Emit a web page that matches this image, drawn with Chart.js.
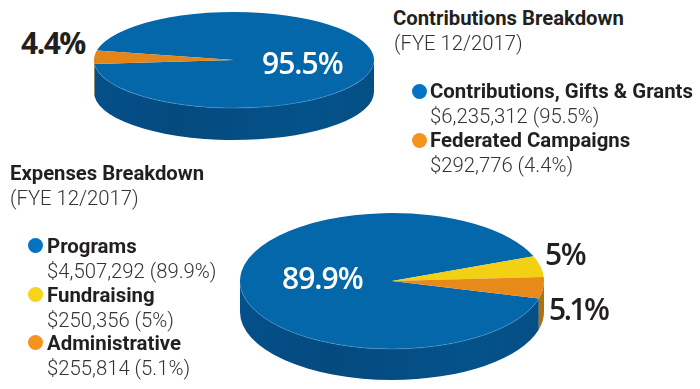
<!DOCTYPE html>
<html>
<head>
<meta charset="utf-8">
<script src="https://cdn.jsdelivr.net/npm/chart.js@4"></script>
<style>
  html, body { margin: 0; padding: 0; background: #fff; }
  body { position: relative; width: 700px; height: 389px; overflow: hidden; font-family: Roboto, sans-serif; }
  canvas { position: absolute; }
  .t { position: absolute; white-space: nowrap; line-height: 20px; }
  .head { font-weight: 700; font-size: 20.3px; color: #231f20; }
  .sub { font-weight: 300; font-size: 20.3px; color: #333; }
  .name { font-weight: 700; font-size: 20.4px; color: #231f20; }
  .amt { font-weight: 300; font-size: 20.3px; color: #333; }
  .pct { font-family: "Open Sans", sans-serif; font-weight: 600; font-size: 30px; line-height: 40px; letter-spacing: -1px; color: #231f20; }
  .pct.in { color: #fff; }
  .dot { position: absolute; width: 15px; height: 15px; border-radius: 50%; }
</style>
</head>
<body>
<canvas id="contrib"></canvas>
<canvas id="expense"></canvas>
<script>
const contribLabels = ['Contributions, Gifts & Grants', 'Federated Campaigns'];
const contribValues = [6235312, 292776];
const contribText = ['$6,235,312 (95.5%)', '$292,776 (4.4%)'];
const contribColors = ['#0467a9', '#e2861c'];
const contribSides = ['#045188', '#b0700c'];
const contribDots = ['#0473c4', '#f6921e'];

const expenseLabels = ['Programs', 'Fundraising', 'Administrative'];
const expenseValues = [4507292, 250356, 255814];
const expenseText = ['$4,507,292 (89.9%)', '$250,356 (5%)', '$255,814 (5.1%)'];
const expenseColors = ['#0467a9', '#f2d014', '#e88a1a'];
const expenseSides = ['#045188', '#b09a0c', '#b0700c'];
const expenseDots = ['#0473c4', '#f7d417', '#f6921e'];

// squash the round pie to an ellipse and draw the wall under it
const pie3d = {
  id: 'pie3d',
  beforeDatasetsDraw(chart, args, opts) {
    const ctx = chart.ctx;
    const arcs = chart.getDatasetMeta(0).data;
    const cx = arcs[0].x, cy = arcs[0].y, rx = arcs[0].outerRadius, ry = rx * opts.squash;
    const sides = chart.data.datasets[0].sideColors;
    ctx.save();
    arcs.forEach((arc, i) => {
      // only the part of the rim facing us (0..PI on the canvas) shows a wall
      [-2, 0, 2].forEach(turn => {
        const a = Math.max(arc.startAngle, turn * Math.PI);
        const b = Math.min(arc.endAngle, (turn + 1) * Math.PI);
        if (b <= a) return;
        ctx.beginPath();
        ctx.ellipse(cx, cy, rx, ry, 0, a, b);
        ctx.ellipse(cx, cy + opts.depth, rx, ry, 0, b, a, true);
        ctx.closePath();
        ctx.fillStyle = sides[i];
        if (i === 0) {
          const g = ctx.createLinearGradient(cx - rx, 0, cx + rx, 0);
          g.addColorStop(0, '#04508a');
          g.addColorStop(0.3, '#044a7e');
          g.addColorStop(0.75, '#04528a');
          g.addColorStop(1, '#054f85');
          ctx.fillStyle = g;
        }
        ctx.fill();
      });
    });
    ctx.translate(cx, cy);
    ctx.scale(1, opts.squash);
    ctx.translate(-cx, -cy);
  },
  afterDatasetsDraw(chart, args, opts) {
    const ctx = chart.ctx;
    ctx.restore();
    // faint light rim along the front edge
    const arc = chart.getDatasetMeta(0).data[0];
    ctx.save();
    ctx.beginPath();
    ctx.ellipse(arc.x, arc.y, arc.outerRadius, arc.outerRadius * opts.squash, 0, 0.2, Math.PI - 0.1);
    ctx.strokeStyle = 'rgba(90, 160, 210, 0.45)';
    ctx.lineWidth = 1;
    ctx.stroke();
    ctx.restore();
  }
};

function makePie(id, labels, values, colors, sides, rotation, squash, depth, box) {
  const el = document.getElementById(id);
  el.style.left = box.left + 'px';
  el.style.top = box.top + 'px';
  el.width = box.size;
  el.height = box.size;
  return new Chart(el, {
    type: 'pie',
    data: {
      labels: labels,
      datasets: [{ data: values, backgroundColor: colors, sideColors: sides, borderWidth: 0 }]
    },
    options: {
      responsive: false,
      animation: false,
      rotation: rotation,
      layout: { padding: 0 },
      plugins: {
        legend: { display: false },
        tooltip: { enabled: false },
        pie3d: { squash: squash, depth: depth }
      }
    },
    plugins: [pie3d]
  });
}

makePie('contrib', contribLabels, contribValues, contribColors, contribSides, 281.5, 0.343, 32, { left: 94, top: -80, size: 280 });
makePie('expense', expenseLabels, expenseValues, expenseColors, expenseSides, 105, 0.447, 31, { left: 240, top: 129, size: 304 });

function addText(cls, str, x, y, spacing) {
  const d = document.createElement('div');
  d.className = 't ' + cls;
  d.textContent = str;
  d.style.left = x + 'px';
  d.style.top = y + 'px';
  if (spacing) {
    d.style.letterSpacing = spacing.space + 'px';
    d.style.fontWeight = spacing.weight;
  }
  document.body.appendChild(d);
}
function addDot(color, x, y) {
  const d = document.createElement('div');
  d.className = 'dot';
  d.style.background = color;
  d.style.left = x + 'px';
  d.style.top = y + 'px';
  document.body.appendChild(d);
}

addText('head', 'Contributions Breakdown', 393, 8);
addText('sub', '(FYE 12/2017)', 394, 33);
contribLabels.forEach((name, i) => {
  addDot(contribDots[i], 412, 84 + i * 49);
  addText('name', name, 430, 81 + i * 49);
  addText('amt', contribText[i], 430, 106 + i * 49);
});

addText('head', 'Expenses Breakdown', 10, 163);
addText('sub', '(FYE 12/2017)', 10, 188);
expenseLabels.forEach((name, i) => {
  addDot(expenseDots[i], 28, 238 + i * 48.5);
  addText('name', name, 47, 236 + i * 48.5);
  addText('amt', expenseText[i], 47, 261 + i * 48.5);
});

addText('pct in', '95.5%', 262, 43);
addText('pct', '4.4%', 21, 23, { space: -1.5, weight: 700 });
addText('pct in', '89.9%', 282, 258);
addText('pct', '5%', 545, 234, { space: -1.5, weight: 600 });
addText('pct', '5.1%', 549, 289, { space: -2.5, weight: 600 });
</script>
</body>
</html>
